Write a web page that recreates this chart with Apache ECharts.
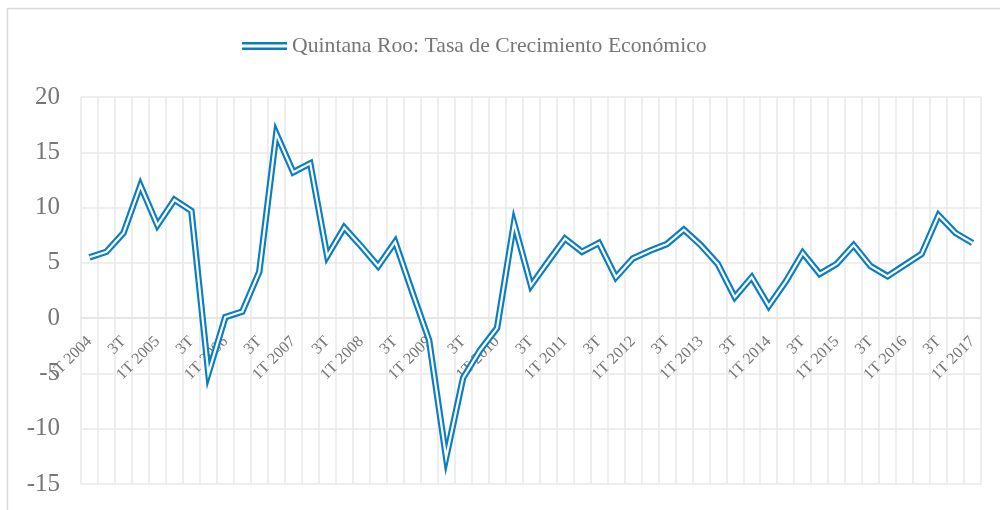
<!DOCTYPE html>
<html>
<head>
<meta charset="utf-8">
<script src="https://cdn.jsdelivr.net/npm/echarts@6/dist/echarts.min.js"></script>
<style>
html, body { margin: 0; padding: 0; background: #fff; }
#main { width: 1000px; height: 510px; }
</style>
</head>
<body>
<div id="main"></div>
<script>
var serieName = 'Quintana Roo: Tasa de Crecimiento Económico';

// trimestres 1T 2004 .. 1T 2017
var anios = [2004, 2005, 2006, 2007, 2008, 2009, 2010, 2011, 2012, 2013, 2014, 2015, 2016, 2017];
var trimestres = ['1T', '2T', '3T', '4T'];

var tasa = [
    5.5, 6.0, 7.7, 12.0, 8.4, 10.7, 9.7, -5.0, 0.1, 0.6,
    4.2, 16.7, 13.2, 14.0, 5.6, 8.2, 6.5, 4.7, 6.9, 2.4,
    -2.0, -12.6, -5.4, -2.9, -0.9, 8.6, 2.95, 5.1, 7.2, 6.0,
    6.8, 3.7, 5.4, 6.1, 6.7, 8.0, 6.6, 4.9, 1.9, 3.7,
    1.1, 3.3, 5.9, 4.0, 4.9, 6.6, 4.7, 3.8, 4.8, 5.8,
    9.3, 7.7, 6.8
];

var yTicks = { min: -15, max: 20, interval: 5 };

var categorias = [];
for (var i = 0; i < tasa.length; i++) {
    var t = trimestres[i % 4];
    var a = anios[Math.floor(i / 4)];
    categorias.push(t == '1T' ? t + ' ' + a : t);
}

var azul = '#0b7dc2';
var gris = '#767676';
var fuente = '"Liberation Serif", "DejaVu Serif", serif';

var gridTop = 97, gridBottom = 26;
var altoGrid = 510 - gridTop - gridBottom;
// el eje de categorias cruza en 0 (como en Excel)
var desplazaEje = -altoGrid * (0 - yTicks.min) / (yTicks.max - yTicks.min);

var chart = echarts.init(document.getElementById('main'));
var option = {
    animation: false,
    backgroundColor: '#fff',
    graphic: [{
        type: 'rect',
        shape: { x: 7.5, y: 8.5, width: 1010, height: 520 },
        style: { fill: 'none', stroke: '#d9d9d9', lineWidth: 1.5 }
    }],
    legend: {
        data: [serieName],
        top: 30,
        left: 237,
        itemWidth: 45,
        itemHeight: 8,
        icon: 'path://M0,0H45V2.4H0Z M0,5.4H45V7.8H0Z',
        textStyle: { color: gris, fontSize: 21.7, fontFamily: fuente }
    },
    grid: {
        left: 81,
        right: 19,
        top: gridTop,
        bottom: gridBottom,
        containLabel: false,
        outerBoundsMode: 'none'
    },
    xAxis: {
        type: 'category',
        data: categorias,
        boundaryGap: true,
        offset: desplazaEje,
        axisLine: { show: true, onZero: false, lineStyle: { color: '#e3e3e3', width: 1.5 } },
        axisTick: { show: false },
        axisLabel: {
            interval: 1,
            rotate: 45,
            margin: 21,
            color: gris,
            fontSize: 16,
            fontFamily: fuente
        },
        splitLine: {
            show: true,
            interval: 0,
            lineStyle: { color: '#e8e8e8', width: 1.5 }
        }
    },
    yAxis: {
        type: 'value',
        min: yTicks.min,
        max: yTicks.max,
        interval: yTicks.interval,
        axisLine: { show: false },
        axisTick: { show: false },
        axisLabel: {
            margin: 21,
            color: gris,
            fontSize: 25,
            fontFamily: fuente
        },
        splitLine: { lineStyle: { color: '#e8e8e8', width: 1.5 } }
    },
    series: [{
        name: serieName,
        type: 'line',
        data: tasa,
        symbol: 'none',
        itemStyle: { color: azul },
        lineStyle: { color: azul, width: 6.5, join: 'miter', miterLimit: 10 },
        z: 2
    }, {
        name: 'interior',
        type: 'line',
        data: tasa,
        symbol: 'none',
        silent: true,
        lineStyle: { color: '#fff', width: 2.2, join: 'miter', miterLimit: 10 },
        z: 3
    }]
};
chart.setOption(option);
window.addEventListener('resize', function () {
    chart.resize();
});
</script>
</body>
</html>
